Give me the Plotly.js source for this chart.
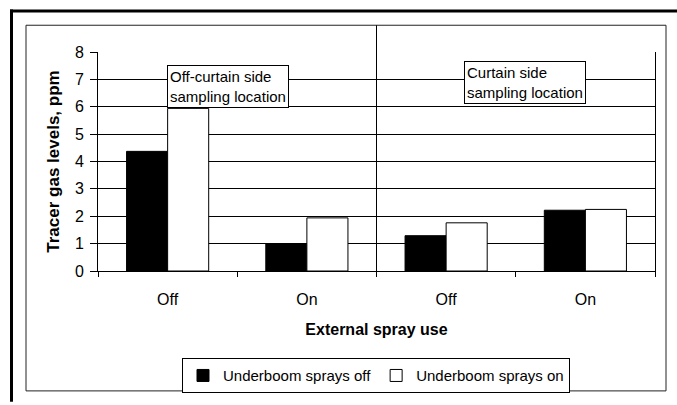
<!DOCTYPE html>
<html>
<head>
<meta charset="utf-8">
<script src="https://cdn.plot.ly/plotly-3.0.1.min.js"></script>
<style>html,body{margin:0;padding:0;background:#fff;overflow:hidden;}#chart{width:677px;height:405px;}</style>
</head>
<body>
<div id="chart"></div>
<script>
// ---- data ----
const categories = [0, 1, 2, 3];
const tickLabels = ["Off", "On", "Off", "On"];
const seriesNames = ["Underboom sprays off", "Underboom sprays on"];
const spraysOff = [4.37, 1.0, 1.29, 2.22];
const spraysOn = [5.94, 1.94, 1.76, 2.25];
const boxLabels = ["Off-curtain side<br>sampling location", "Curtain side<br>sampling location"];

// ---- geometry helpers (pixel -> paper) ----
const W = 677, H = 405;
const M = {l: 98, r: 22, t: 52, b: 132};
const PW = W - M.l - M.r, PH = H - M.t - M.b;
const px = x => (x - M.l) / PW;
const py = y => (H - M.b - y) / PH;

const FONT = "Arial, 'Liberation Sans', sans-serif";

const traces = [
  {type: "bar", name: seriesNames[0], x: categories, y: spraysOff,
   marker: {color: "#000000", line: {color: "#000000", width: 1}}},
  {type: "bar", name: seriesNames[1], x: categories, y: spraysOn,
   marker: {color: "#ffffff", line: {color: "#000000", width: 1}}}
];

const layout = {
  width: W, height: H,
  margin: M,
  paper_bgcolor: "#ffffff", plot_bgcolor: "#ffffff",
  font: {family: FONT, color: "#000000", size: 16},
  barmode: "group", bargap: 0.41, bargroupgap: 0,
  showlegend: true,
  legend: {orientation: "h", x: px(182), y: py(361), xanchor: "left", yanchor: "top",
           bordercolor: "#000000", borderwidth: 1, bgcolor: "#ffffff",
           font: {family: FONT, size: 15, color: "#000"}, itemwidth: 30,
           tracegroupgap: 0},
  xaxis: {
    range: [-0.5, 3.5], tickmode: "array", tickvals: categories, ticktext: tickLabels,
    ticks: "", showgrid: false, zeroline: false,
    showline: true, linecolor: "#000000", linewidth: 1,
    tickfont: {family: FONT, size: 16, color: "#000"},
    ticklabelstandoff: 14,
    minor: {tickmode: "array", tickvals: [-0.5, 0.5, 1.5, 2.5, 3.5], ticks: "outside",
            ticklen: 5, tickwidth: 1, tickcolor: "#000000", showgrid: false},
    title: {text: "<b>External spray use</b>", font: {family: FONT, size: 16, color: "#000"}, standoff: 16},
    fixedrange: true
  },
  yaxis: {
    range: [0, 8], dtick: 1, tick0: 0,
    ticks: "outside", ticklen: 7, tickwidth: 1, tickcolor: "#000000",
    showgrid: true, gridcolor: "#000000", gridwidth: 1, zeroline: false,
    showline: true, mirror: true, linecolor: "#000000", linewidth: 1,
    tickfont: {family: FONT, size: 16, color: "#000"},
    ticklabelstandoff: 3,
    title: {text: "<b>Tracer gas levels, ppm</b>", font: {family: FONT, size: 17, color: "#000"}, standoff: 10},
    fixedrange: true
  },
  shapes: [
    // chart-area box
    {type: "rect", xref: "paper", yref: "paper", x0: px(26), x1: px(666), y0: py(394), y1: py(25),
     line: {color: "#222222", width: 1}, layer: "below"},
    // outer frame (left + top)
    {type: "line", xref: "paper", yref: "paper", x0: px(11.5), x1: px(11.5), y0: py(9), y1: py(405),
     line: {color: "#000000", width: 3}},
    {type: "line", xref: "paper", yref: "paper", x0: px(10), x1: px(677), y0: py(10.5), y1: py(10.5),
     line: {color: "#000000", width: 3}},
    // divider between the two sampling locations
    {type: "line", xref: "x", yref: "paper", x0: 1.5, x1: 1.5, y0: py(278), y1: py(25),
     line: {color: "#000000", width: 1}}
  ],
  annotations: [
    {xref: "paper", yref: "paper", x: px(167), y: py(65), xanchor: "left", yanchor: "top",
     text: boxLabels[0], align: "left", showarrow: false, bgcolor: "#ffffff",
     bordercolor: "#000000", borderwidth: 1, borderpad: 2,
     font: {family: FONT, size: 15, color: "#000"}},
    {xref: "paper", yref: "paper", x: px(464), y: py(61), xanchor: "left", yanchor: "top",
     text: boxLabels[1], align: "left", showarrow: false, bgcolor: "#ffffff",
     bordercolor: "#000000", borderwidth: 1, borderpad: 2,
     font: {family: FONT, size: 15, color: "#000"}}
  ]
};

Plotly.newPlot("chart", traces, layout, {staticPlot: true, displayModeBar: false});
</script>
</body>
</html>
